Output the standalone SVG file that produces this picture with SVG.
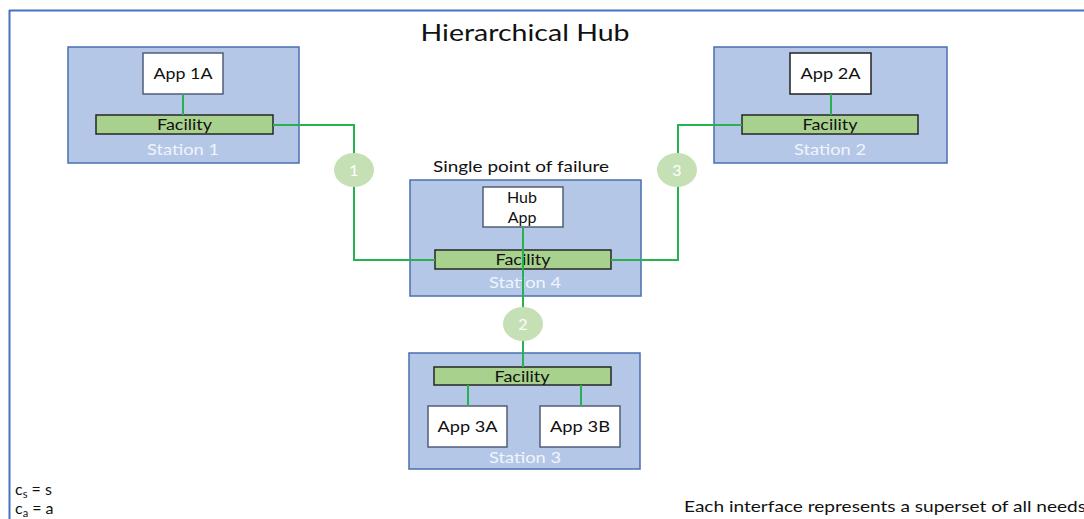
<svg xmlns="http://www.w3.org/2000/svg" width="1084" height="519" viewBox="0 0 1084 519">
<style>
text{font-family:Lato,"Liberation Sans",sans-serif;fill:#111;}
.station{fill:#B4C7E7;stroke:#4A6FB0;stroke-width:1.5;}
.fac{fill:#A9D18E;stroke:#262626;stroke-width:1.5;}
.app{fill:#fff;stroke:#4F5E7A;stroke-width:1.5;}
.lbl{font-size:16px;text-anchor:middle;}
.st{font-size:16px;text-anchor:middle;fill:#F0F4FB;}
.wire{fill:none;stroke:#27B24F;stroke-width:2;}
.num{fill:#C5E0B4;}
.numt{font-size:16px;text-anchor:middle;fill:#fff;}
</style>
<rect width="1084" height="519" fill="#fff"/>
<path d="M9,10.5 H1084 M9.5,10 V519" fill="none" stroke="#4472C4" stroke-width="2"/>
<text x="525" y="41" font-size="23" text-anchor="middle" textLength="209" lengthAdjust="spacingAndGlyphs">Hierarchical Hub</text>

<g id="station1">
<rect class="station" x="68" y="47" width="231" height="116"/>
<rect class="app" x="143" y="53" width="80" height="41"/>
<text class="lbl" x="183" y="79" textLength="59" lengthAdjust="spacingAndGlyphs">App 1A</text>
<rect class="fac" x="96" y="115" width="177" height="19"/>
<text class="lbl" x="184.5" y="130" textLength="55" lengthAdjust="spacingAndGlyphs">Facility</text>
<text class="st" x="183" y="155" textLength="72" lengthAdjust="spacingAndGlyphs">Station 1</text>
</g>

<g id="station2">
<rect class="station" x="714" y="47" width="233" height="116"/>
<rect class="app" x="790" y="53" width="81" height="41" style="stroke:#222"/>
<text class="lbl" x="830.5" y="79" textLength="60" lengthAdjust="spacingAndGlyphs">App 2A</text>
<rect class="fac" x="742" y="115" width="176" height="19"/>
<text class="lbl" x="830" y="130" textLength="55" lengthAdjust="spacingAndGlyphs">Facility</text>
<text class="st" x="830" y="155" textLength="72" lengthAdjust="spacingAndGlyphs">Station 2</text>
</g>

<g id="station4">
<text class="lbl" x="521" y="172" textLength="176" lengthAdjust="spacingAndGlyphs">Single point of failure</text>
<rect class="station" x="410" y="180" width="231" height="116"/>
<rect class="app" x="483" y="187" width="80" height="40"/>
<text class="lbl" x="522" y="203" font-size="17">Hub</text>
<text class="lbl" x="522" y="223" font-size="17">App</text>
<rect class="fac" x="435" y="250" width="176" height="19"/>
<text class="lbl" x="523" y="265" textLength="55" lengthAdjust="spacingAndGlyphs">Facility</text>
<text class="st" x="525" y="288" textLength="72" lengthAdjust="spacingAndGlyphs">Station 4</text>
</g>

<g id="station3">
<rect class="station" x="409" y="353" width="231" height="116"/>
<rect class="fac" x="434" y="367" width="177" height="18"/>
<text class="lbl" x="522" y="382" textLength="55" lengthAdjust="spacingAndGlyphs">Facility</text>
<rect class="app" x="428" y="406" width="79" height="41"/>
<text class="lbl" x="467.5" y="432" textLength="60" lengthAdjust="spacingAndGlyphs">App 3A</text>
<rect class="app" x="540" y="406" width="80" height="41"/>
<text class="lbl" x="580" y="432" textLength="60" lengthAdjust="spacingAndGlyphs">App 3B</text>
<text class="st" x="525" y="463" textLength="72" lengthAdjust="spacingAndGlyphs">Station 3</text>
</g>

<g id="connectors">
<path class="wire" d="M183,94 V115"/>
<path class="wire" d="M831,94 V115"/>
<path class="wire" d="M468,385 V406"/>
<path class="wire" d="M581,385 V406"/>
<path class="wire" d="M273,125 H354 V260 H435"/>
<path class="wire" d="M611,260 H678 V125 H742"/>
<path class="wire" d="M523,227 V367"/>
</g>

<g id="iface1">
<ellipse class="num" cx="354" cy="170" rx="20" ry="17"/>
<text class="numt" x="354" y="176">1</text>
</g>
<g id="iface2">
<ellipse class="num" cx="523" cy="324" rx="20" ry="17"/>
<text class="numt" x="523" y="330">2</text>
</g>
<g id="iface3">
<ellipse class="num" cx="677" cy="170" rx="20" ry="17"/>
<text class="numt" x="677" y="176">3</text>
</g>

<g id="notes">
<text x="15" y="495" font-size="16">c<tspan font-size="11" dy="3">s</tspan><tspan dy="-3"> = s</tspan></text>
<text x="15" y="514" font-size="16">c<tspan font-size="11" dy="3">a</tspan><tspan dy="-3"> = a</tspan></text>
<text x="684" y="512" font-size="15" textLength="402" lengthAdjust="spacingAndGlyphs">Each interface represents a superset of all needs</text>
</g>
</svg>
